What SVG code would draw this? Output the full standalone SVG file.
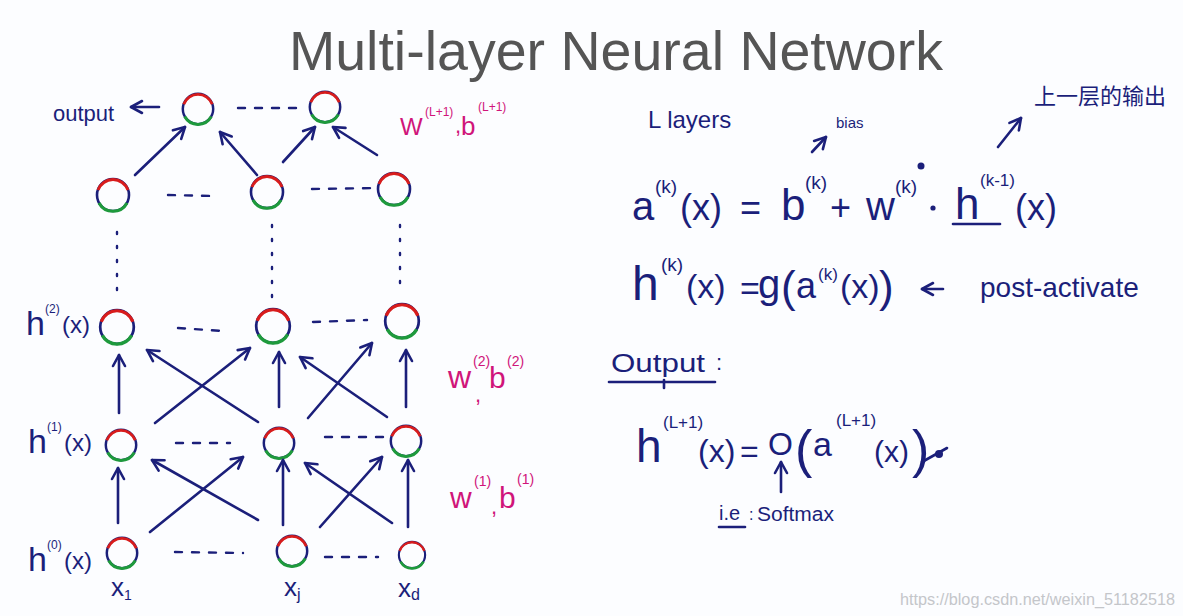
<svg xmlns="http://www.w3.org/2000/svg" width="1183" height="616" viewBox="0 0 1183 616">
<style>
.ink{fill:#1b1f7a;font-family:"Liberation Sans","Noto Sans CJK SC",sans-serif}
.pk{fill:#d0157a;font-family:"Liberation Sans",sans-serif}
.ln{stroke:#1b1f7a;stroke-width:2.6;fill:none;stroke-linecap:round}
.arr{stroke:#1b1f7a;stroke-width:2.6;fill:none;stroke-linecap:round;marker-end:url(#ah)}
.dash{stroke:#1b1f7a;stroke-width:2.4;fill:none;stroke-dasharray:7 10;stroke-linecap:round}
.dot{stroke:#1b1f7a;stroke-width:2.4;fill:none;stroke-dasharray:2 12;stroke-linecap:round}
</style>
<defs>
<marker id="ah" viewBox="0 0 16 16" refX="13" refY="8" markerWidth="16" markerHeight="16" markerUnits="userSpaceOnUse" orient="auto">
<path d="M2,2 L13,8 L2,14" fill="none" stroke="#1b1f7a" stroke-width="2.6" stroke-linecap="round" stroke-linejoin="round"/>
</marker>
<g id="neuron">
<circle cx="0" cy="0" r="16" fill="none" stroke="#1b1f7a" stroke-width="2.6"/>
<path d="M -15 -5 A 16 16 0 0 1 15 -5" fill="none" stroke="#d81c1c" stroke-width="3"/>
<path d="M -14 8 A 16 16 0 0 0 14 8" fill="none" stroke="#1e9a3c" stroke-width="3.2"/>
</g>
</defs>
<rect width="1183" height="616" fill="#fcfdff"/>
<text x="289" y="70" font-family="Liberation Sans,sans-serif" font-size="55" fill="#555555" textLength="654" lengthAdjust="spacingAndGlyphs">Multi-layer Neural Network</text>

<g id="nodes">
<g id="n_out1"><use href="#neuron" transform="translate(198,109) scale(0.95)"/></g>
<g id="n_out2"><use href="#neuron" transform="translate(325,107) scale(0.95)"/></g>
<g id="n_L1"><use href="#neuron" transform="translate(113,195)"/></g>
<g id="n_L2"><use href="#neuron" transform="translate(267,192)"/></g>
<g id="n_L3"><use href="#neuron" transform="translate(394,189)"/></g>
<g id="n_21"><use href="#neuron" transform="translate(117,327) scale(1.05)"/></g>
<g id="n_22"><use href="#neuron" transform="translate(273,326) scale(1.05)"/></g>
<g id="n_23"><use href="#neuron" transform="translate(402,321) scale(1.05)"/></g>
<g id="n_11"><use href="#neuron" transform="translate(121,445) scale(0.95)"/></g>
<g id="n_12"><use href="#neuron" transform="translate(279,443) scale(0.95)"/></g>
<g id="n_13"><use href="#neuron" transform="translate(406,441) scale(0.95)"/></g>
<g id="n_01"><use href="#neuron" transform="translate(122,553) scale(0.95)"/></g>
<g id="n_02"><use href="#neuron" transform="translate(292,551) scale(0.95)"/></g>
<g id="n_03"><use href="#neuron" transform="translate(412,555) scale(0.82)"/></g>
</g>

<g id="connectors">
<line class="arr" x1="118" y1="523" x2="118" y2="468"/>
<line class="arr" x1="150" y1="532" x2="243" y2="457"/>
<line class="arr" x1="258" y1="520" x2="152" y2="460"/>
<line class="arr" x1="283" y1="525" x2="283" y2="460"/>
<line class="arr" x1="320" y1="527" x2="382" y2="457"/>
<line class="arr" x1="392" y1="523" x2="305" y2="463"/>
<line class="arr" x1="408" y1="527" x2="408" y2="460"/>
<line class="arr" x1="119" y1="413" x2="119" y2="355"/>
<line class="arr" x1="155" y1="423" x2="250" y2="348"/>
<line class="arr" x1="258" y1="422" x2="147" y2="350"/>
<line class="arr" x1="279" y1="407" x2="279" y2="352"/>
<line class="arr" x1="308" y1="418" x2="372" y2="343"/>
<line class="arr" x1="387" y1="417" x2="300" y2="357"/>
<line class="arr" x1="406" y1="407" x2="406" y2="350"/>
<line class="arr" x1="135" y1="175" x2="185" y2="127"/>
<line class="arr" x1="257" y1="175" x2="220" y2="132"/>
<line class="arr" x1="283" y1="162" x2="315" y2="127"/>
<line class="arr" x1="377" y1="155" x2="333" y2="127"/>
<line class="arr" x1="159" y1="107" x2="131" y2="107"/>
<line class="dash" x1="238" y1="108" x2="297" y2="108"/>
<line class="dash" x1="168" y1="195" x2="213" y2="196"/>
<line class="dash" x1="312" y1="189" x2="375" y2="188"/>
<line class="dash" x1="178" y1="328" x2="222" y2="331"/>
<line class="dash" x1="313" y1="322" x2="367" y2="320"/>
<line class="dash" x1="176" y1="443" x2="230" y2="443"/>
<line class="dash" x1="325" y1="437" x2="383" y2="437"/>
<line class="dash" x1="175" y1="552" x2="243" y2="553"/>
<line class="dash" x1="325" y1="557" x2="378" y2="557"/>
<line class="dot" x1="117" y1="232" x2="117" y2="298"/>
<line class="dot" x1="272" y1="225" x2="272" y2="303"/>
<line class="dot" x1="400" y1="225" x2="400" y2="292"/>
<line class="arr" x1="812" y1="152" x2="826" y2="137"/>
<line class="arr" x1="998" y1="147" x2="1021" y2="118"/>
<line class="arr" x1="781" y1="492" x2="781" y2="462"/>
<line class="arr" x1="943" y1="289" x2="922" y2="289"/>
</g>

<g id="labels-left">
<text class="ink" x="53" y="121" font-size="22">output</text>
<text class="ink" x="26" y="335" font-size="34">h</text>
<text class="ink" x="45" y="313" font-size="12">(2)</text>
<text class="ink" x="62" y="333" font-size="24">(x)</text>
<text class="ink" x="28" y="453" font-size="34">h</text>
<text class="ink" x="47" y="431" font-size="12">(1)</text>
<text class="ink" x="64" y="451" font-size="24">(x)</text>
<text class="ink" x="28" y="571" font-size="34">h</text>
<text class="ink" x="47" y="549" font-size="12">(0)</text>
<text class="ink" x="64" y="569" font-size="24">(x)</text>
<text class="ink" x="111" y="596" font-size="26">x<tspan font-size="14" dy="4">1</tspan></text>
<text class="ink" x="284" y="596" font-size="26">x<tspan font-size="16" dy="4">j</tspan></text>
<text class="ink" x="398" y="597" font-size="26">x<tspan font-size="16" dy="3">d</tspan></text>
<text class="pk" x="400" y="135" font-size="24">W</text>
<text class="pk" x="425" y="116" font-size="12">(L+1)</text>
<text class="pk" x="455" y="133" font-size="22">,</text>
<text class="pk" x="461" y="135" font-size="26">b</text>
<text class="pk" x="478" y="111" font-size="12">(L+1)</text>
<text class="pk" x="448" y="388" font-size="32">w</text>
<text class="pk" x="473" y="366" font-size="14">(2)</text>
<text class="pk" x="475" y="402" font-size="22">,</text>
<text class="pk" x="489" y="388" font-size="30">b</text>
<text class="pk" x="507" y="366" font-size="14">(2)</text>
<text class="pk" x="450" y="508" font-size="30">w</text>
<text class="pk" x="474" y="486" font-size="14">(1)</text>
<text class="pk" x="491" y="514" font-size="22">,</text>
<text class="pk" x="499" y="508" font-size="30">b</text>
<text class="pk" x="517" y="484" font-size="14">(1)</text>
</g>

<g id="formulas">
<text class="ink" x="648" y="128" font-size="24">L layers</text>
<text class="ink" x="836" y="128" font-size="15">bias</text>
<text class="ink" x="1034" y="104" font-size="22">上一层的输出</text>

<text class="ink" x="632" y="220" font-size="40">a</text>
<text class="ink" x="655" y="193" font-size="19">(k)</text>
<text class="ink" x="680" y="220" font-size="36">(x)</text>
<text class="ink" x="740" y="220" font-size="36">=</text>
<text class="ink" x="781" y="220" font-size="44">b</text>
<text class="ink" x="805" y="189" font-size="19">(k)</text>
<text class="ink" x="830" y="220" font-size="36">+</text>
<text class="ink" x="866" y="220" font-size="40">w</text>
<text class="ink" x="895" y="193" font-size="19">(k)</text>
<circle cx="921" cy="166" r="3.5" fill="#1b1f7a"/>
<circle cx="933" cy="208" r="2.6" fill="#1b1f7a"/>
<text class="ink" x="955" y="219" font-size="44">h</text>
<line class="ln" x1="953" y1="224" x2="1000" y2="224"/>
<text class="ink" x="980" y="186" font-size="17">(k-1)</text>
<text class="ink" x="1015" y="220" font-size="36">(x)</text>

<text class="ink" x="632" y="300" font-size="48">h</text>
<text class="ink" x="661" y="271" font-size="19">(k)</text>
<text class="ink" x="686" y="298" font-size="34">(x)</text>
<text class="ink" x="740" y="300" font-size="34">=</text>
<text class="ink" x="758" y="298" font-size="40">g</text>
<text class="ink" x="781" y="302" font-size="44">(</text>
<text class="ink" x="796" y="298" font-size="36">a</text>
<text class="ink" x="818" y="280" font-size="17">(k)</text>
<text class="ink" x="840" y="298" font-size="34">(x)</text>
<text class="ink" x="879" y="302" font-size="44">)</text>
<text class="ink" x="980" y="297" font-size="28">post-activate</text>

<text class="ink" x="611" y="372" font-size="26" textLength="94" lengthAdjust="spacingAndGlyphs">Output</text>
<text class="ink" x="716" y="370" font-size="22">:</text>
<line class="ln" x1="609" y1="382" x2="715" y2="382"/>
<line class="ln" x1="664" y1="380" x2="664" y2="388"/>

<text class="ink" x="636" y="462" font-size="46">h</text>
<text class="ink" x="663" y="428" font-size="17">(L+1)</text>
<text class="ink" x="698" y="462" font-size="32">(x)</text>
<text class="ink" x="740" y="462" font-size="32">=</text>
<text class="ink" x="768" y="455" font-size="32">O</text>
<text class="ink" x="795" y="467" font-size="52">(</text>
<text class="ink" x="813" y="456" font-size="34">a</text>
<text class="ink" x="836" y="426" font-size="17">(L+1)</text>
<text class="ink" x="874" y="462" font-size="30">(x)</text>
<text class="ink" x="912" y="467" font-size="52">)</text>
<line class="ln" x1="922" y1="462" x2="947" y2="448"/>
<circle cx="939" cy="454" r="4" fill="#1b1f7a"/>

<text class="ink" x="719" y="520" font-size="20">i.e</text>
<line class="ln" x1="719" y1="527" x2="745" y2="527" stroke-width="2"/>
<text class="ink" x="749" y="520" font-size="16">:</text>
<text class="ink" x="757" y="521" font-size="20" textLength="77" lengthAdjust="spacingAndGlyphs">Softmax</text>
</g>

<text x="900" y="605" font-family="Liberation Sans,sans-serif" font-size="16" fill="#c4c6ca" textLength="275" lengthAdjust="spacingAndGlyphs">https://blog.csdn.net/weixin_51182518</text>
</svg>
